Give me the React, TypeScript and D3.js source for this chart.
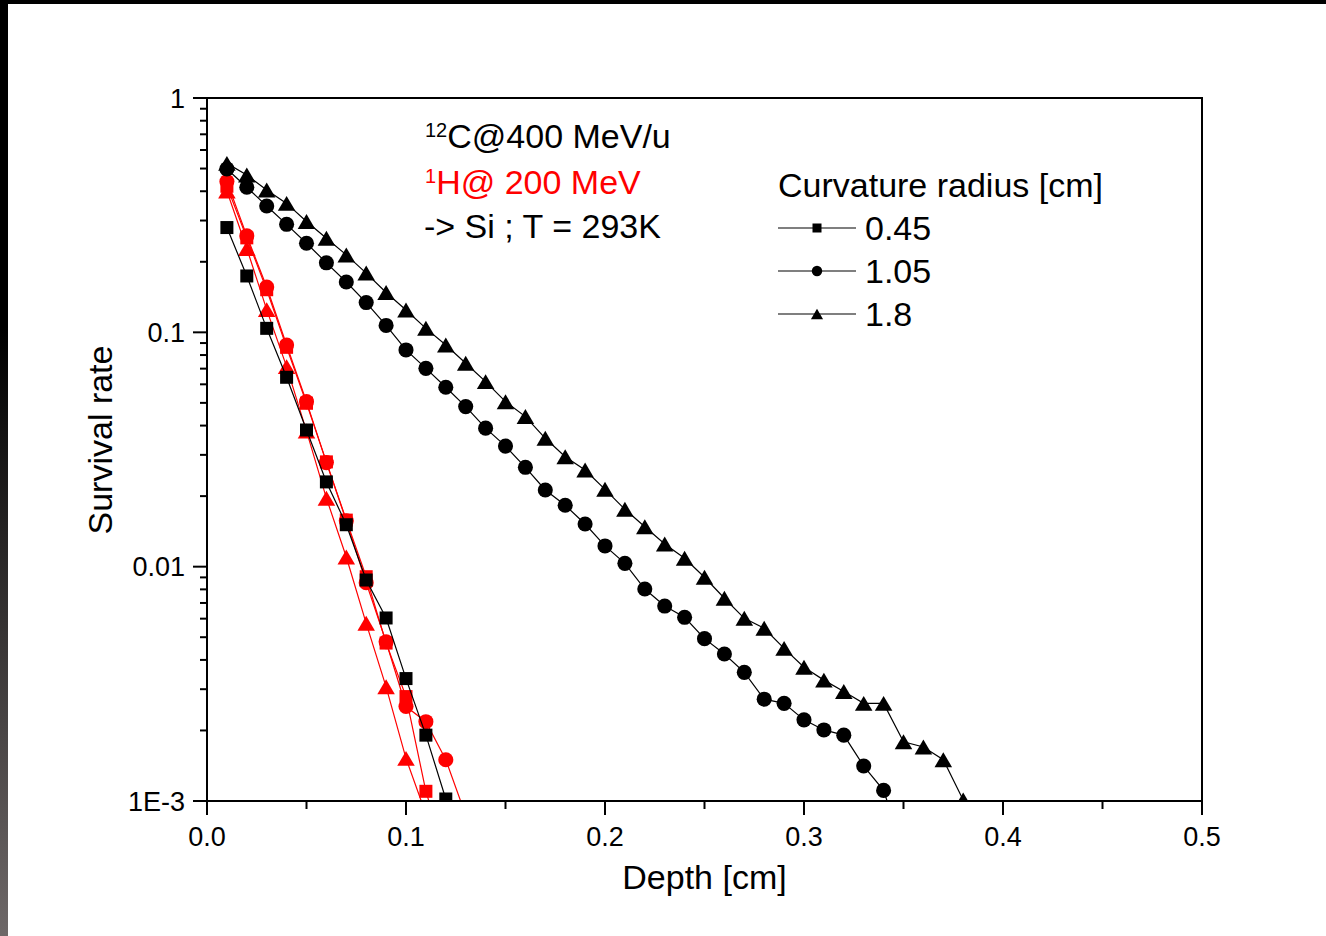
import React from "react";
import * as d3 from "d3";

// ---- Data ----
const depthC045 = [0.01,0.02,0.03,0.04,0.05,0.06,0.07,0.08,0.09,0.10,0.11,0.12];
const carbon045 = [0.28,0.174,0.104,0.0643,0.0383,0.0230,0.0151,0.00877,0.00604,0.00333,0.00191,0.00102];

const depthC105 = [0.01,0.02,0.03,0.04,0.05,0.06,0.07,0.08,0.09,0.10,0.11,0.12,0.13,0.14,0.15,0.16,0.17,0.18,0.19,0.20,0.21,0.22,0.23,0.24,0.25,0.26,0.27,0.28,0.29,0.30,0.31,0.32,0.33,0.34,0.35];
const carbon105 = [0.498,0.416,0.346,0.289,0.240,0.198,0.164,0.134,0.107,0.0841,0.0702,0.0583,0.0482,0.0390,0.0327,0.02655,0.02124,0.01828,0.01521,0.01226,0.01033,0.00803,0.00679,0.00608,0.00493,0.00424,0.00354,0.00272,0.00261,0.00222,0.00201,0.00191,0.00141,0.00111,0.00061];

const depthC18 = [0.01,0.02,0.03,0.04,0.05,0.06,0.07,0.08,0.09,0.10,0.11,0.12,0.13,0.14,0.15,0.16,0.17,0.18,0.19,0.20,0.21,0.22,0.23,0.24,0.25,0.26,0.27,0.28,0.29,0.30,0.31,0.32,0.33,0.34,0.35,0.36,0.37,0.38];
const carbon18 = [0.526,0.469,0.405,0.355,0.297,0.252,0.214,0.179,0.148,0.1245,0.104,0.0883,0.0738,0.0616,0.0506,0.0437,0.0353,0.02946,0.02585,0.02138,0.01757,0.01481,0.0125,0.01086,0.00901,0.00733,0.00602,0.00546,0.00448,0.00372,0.00328,0.00293,0.00261,0.00261,0.00179,0.0017,0.0015,0.00101];

const depthH045 = [0.01,0.02,0.03,0.04,0.05,0.06,0.07,0.08,0.09,0.10,0.11,0.12];
const proton045 = [0.42,0.253,0.152,0.0863,0.0498,0.028,0.0158,0.00906,0.00472,0.00279,0.0011,0.00058];

const depthH105 = [0.01,0.02,0.03,0.04,0.05,0.06,0.07,0.08,0.09,0.10,0.11,0.12,0.13];
const proton105 = [0.44,0.258,0.156,0.0883,0.0506,0.0278,0.0157,0.00854,0.00478,0.00253,0.00218,0.0015,0.00087];

const depthH18 = [0.01,0.02,0.03,0.04,0.05,0.06,0.07,0.08,0.09,0.10,0.11];
const proton18 = [0.401,0.228,0.125,0.0714,0.0379,0.0196,0.011,0.00573,0.00307,0.00152,0.00088];

const xTicks = [0, 0.1, 0.2, 0.3, 0.4, 0.5];
const xTickLabels = ["0.0", "0.1", "0.2", "0.3", "0.4", "0.5"];
const xMinorTicks = [0.05, 0.15, 0.25, 0.35, 0.45];
const yTicks = [1, 0.1, 0.01, 0.001];
const yTickLabels = ["1", "0.1", "0.01", "1E-3"];
const legendTitle = "Curvature radius [cm]";
const legendLabels = ["0.45", "1.05", "1.8"];
const legendShapes = ["square", "circle", "triangle"];

const W = 1326, H = 936;
const L = 207, R = 1202, T = 98, B = 801;
const FONT = "'Liberation Sans', Arial, Helvetica, sans-serif";

const x = d3.scaleLinear().domain([0, 0.5]).range([L, R]);
const y = d3.scaleLog().domain([0.001, 1]).range([B, T]);

function Marker({ shape, cx, cy, size, color }: any) {
  if (shape === "square") {
    const s = size;
    return <rect x={cx - s / 2} y={cy - s / 2} width={s} height={s} fill={color} />;
  }
  if (shape === "circle") {
    return <circle cx={cx} cy={cy} r={size * 0.58} fill={color} />;
  }
  const w = size * 1.35, h = size * 1.15;
  return (
    <path
      d={`M${cx},${cy - h / 2}L${cx + w / 2},${cy + h / 2}L${cx - w / 2},${cy + h / 2}Z`}
      fill={color}
    />
  );
}

function Series({ xs, ys, shape, color }: any) {
  const pts = xs.map((d: number, i: number) => [x(d), y(ys[i])] as [number, number]);
  const line = d3.line();
  return (
    <g>
      <path d={line(pts) || ""} fill="none" stroke={color} strokeWidth={1.2} />
      {pts.map((p: [number, number], i: number) => (
        <Marker key={i} shape={shape} cx={p[0]} cy={p[1]} size={13} color={color} />
      ))}
    </g>
  );
}

export default function App() {
  const yMinor: number[] = [];
  for (const dec of [0.001, 0.01, 0.1]) {
    for (let k = 2; k <= 9; k++) yMinor.push(dec * k);
  }
  return (
    <svg
      width={W}
      height={H}
      style={{ position: "fixed", left: 0, top: 0, background: "#fff" }}
      fontFamily={FONT}
    >
      <defs>
        <clipPath id="plotClip">
          <rect x={L} y={T} width={R - L} height={B - T} />
        </clipPath>
        <linearGradient id="leftBar" x1="0" y1="0" x2="0" y2="1">
          <stop offset="0" stopColor="#000" />
          <stop offset="0.35" stopColor="#000" />
          <stop offset="1" stopColor="#6e6868" />
        </linearGradient>
      </defs>
      <rect x={0} y={0} width={W} height={H} fill="#fff" />
      <rect x={0} y={0} width={W} height={4} fill="#000" />
      <rect x={0} y={0} width={8} height={H} fill="url(#leftBar)" />

      {/* data */}
      <g clipPath="url(#plotClip)">
        <Series xs={depthH045} ys={proton045} shape="square" color="#ff0000" />
        <Series xs={depthH105} ys={proton105} shape="circle" color="#ff0000" />
        <Series xs={depthH18} ys={proton18} shape="triangle" color="#ff0000" />
        <Series xs={depthC045} ys={carbon045} shape="square" color="#000" />
        <Series xs={depthC105} ys={carbon105} shape="circle" color="#000" />
        <Series xs={depthC18} ys={carbon18} shape="triangle" color="#000" />
      </g>

      {/* frame */}
      <rect x={L} y={T} width={R - L} height={B - T} fill="none" stroke="#000" strokeWidth={2} />

      {/* x ticks */}
      {xTicks.map((t, i) => (
        <g key={"xt" + i}>
          <line x1={x(t)} x2={x(t)} y1={B} y2={B + 14} stroke="#000" strokeWidth={2} />
          <text x={x(t)} y={846} textAnchor="middle" fontSize={27}>{xTickLabels[i]}</text>
        </g>
      ))}
      {xMinorTicks.map((t, i) => (
        <line key={"xm" + i} x1={x(t)} x2={x(t)} y1={B} y2={B + 8} stroke="#000" strokeWidth={2} />
      ))}

      {/* y ticks */}
      {yTicks.map((t, i) => (
        <g key={"yt" + i}>
          <line x1={L - 14} x2={L} y1={y(t)} y2={y(t)} stroke="#000" strokeWidth={2} />
          <text x={185} y={y(t) + 9.5} textAnchor="end" fontSize={27}>{yTickLabels[i]}</text>
        </g>
      ))}
      {yMinor.map((t, i) => (
        <line key={"ym" + i} x1={L - 7} x2={L} y1={y(t)} y2={y(t)} stroke="#000" strokeWidth={2} />
      ))}

      {/* axis titles */}
      <text x={(L + R) / 2} y={889} textAnchor="middle" fontSize={34}>Depth [cm]</text>
      <text transform={`translate(112,440) rotate(-90)`} textAnchor="middle" fontSize={34}>Survival rate</text>

      {/* annotation */}
      <text x={425} y={148} fontSize={34}>
        <tspan fontSize={20} dy={-11}>12</tspan>
        <tspan dy={11}>C@400 MeV/u</tspan>
      </text>
      <text x={425} y={194} fontSize={34} fill="#ff0000">
        <tspan fontSize={20} dy={-11}>1</tspan>
        <tspan dy={11}>H@ 200 MeV</tspan>
      </text>
      <text x={424} y={238} fontSize={34}>-&gt; Si ; T = 293K</text>

      {/* legend */}
      <text x={778} y={197} fontSize={34}>{legendTitle}</text>
      {legendLabels.map((lab, i) => {
        const ly = 228 + i * 43;
        return (
          <g key={"lg" + i}>
            <line x1={778} x2={856} y1={ly} y2={ly} stroke="#000" strokeWidth={1.2} />
            <Marker shape={legendShapes[i]} cx={817} cy={ly} size={9} color="#000" />
            <text x={865} y={ly + 12} fontSize={34}>{lab}</text>
          </g>
        );
      })}
    </svg>
  );
}
